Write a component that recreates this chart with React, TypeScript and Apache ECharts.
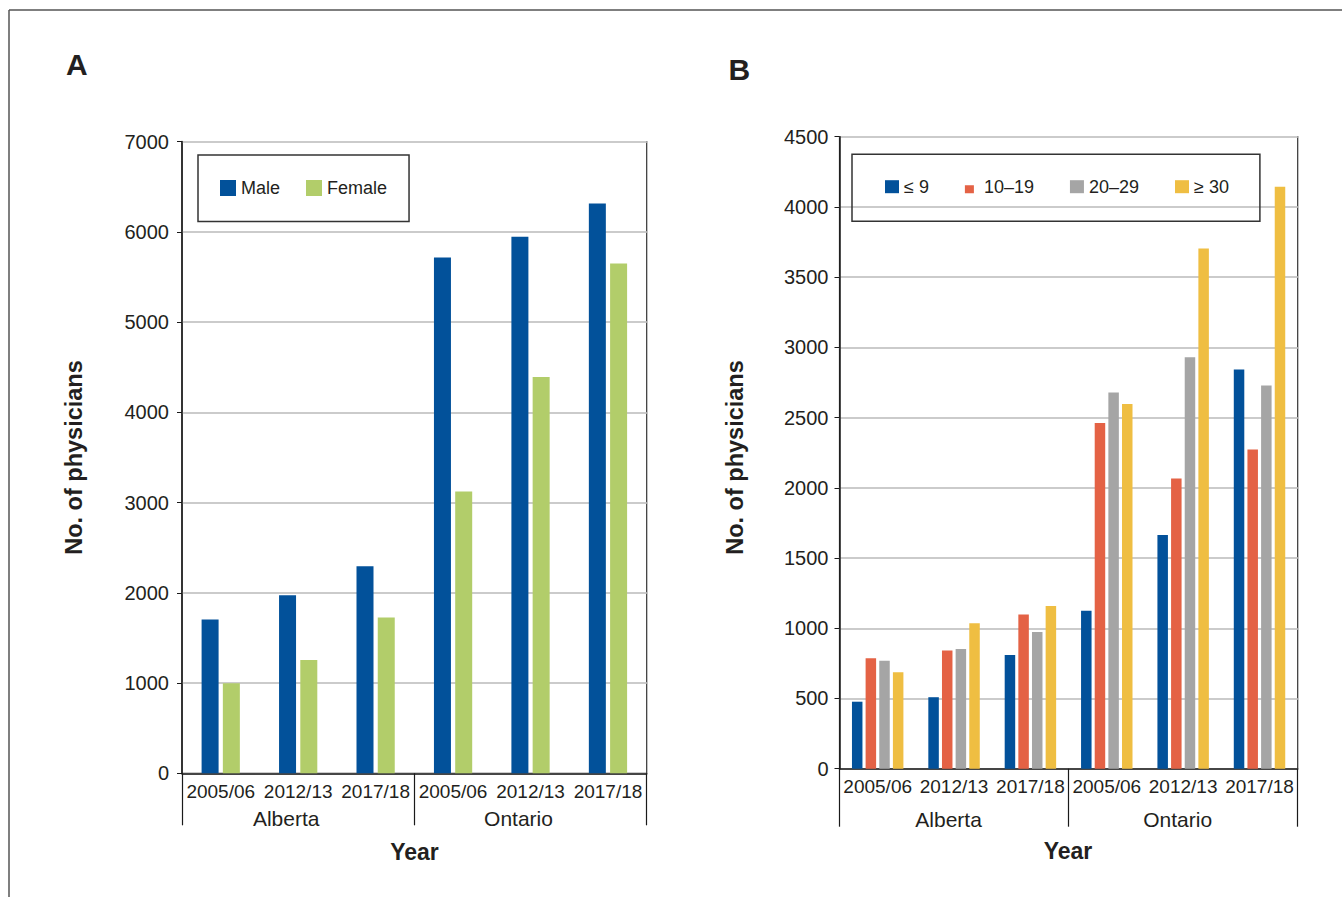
import React, { useEffect, useRef } from "react";
import * as echarts from "echarts";

// ---- Data ----
const periods = ["2005/06", "2012/13", "2017/18", "2005/06", "2012/13", "2017/18"];
const provinces = ["Alberta", "Ontario"];

// Panel A: number of physicians by sex
const sexNames = ["Male", "Female"];
const maleValues = [1705, 1972, 2295, 5715, 5945, 6312];
const femaleValues = [998, 1255, 1727, 3123, 4392, 5647];

// Panel B: number of physicians by years in practice
const ageNames = ["≤ 9", "10–19", "20–29", "≥ 30"];
const le9Values = [477, 509, 810, 1124, 1664, 2842];
const y10to19Values = [787, 841, 1098, 2462, 2067, 2272];
const y20to29Values = [768, 853, 974, 2678, 2930, 2729];
const ge30Values = [687, 1036, 1158, 2597, 3704, 4144];

const colorsA = ["#02519a", "#b2cd6a"];
const colorsB = ["#02519a", "#e46245", "#a5a5a5", "#efbe42"];

const FONT = "'Liberation Sans', Arial, Helvetica, sans-serif";
const TXT = "#231f20";

function yAxisCfg(max: number, interval: number, margin: number) {
  return {
    type: "value",
    min: 0,
    max,
    interval,
    axisLine: { show: true, lineStyle: { color: "#1a1a1a", width: 1.5 } },
    axisTick: { show: true, length: 5, lineStyle: { color: "#1a1a1a", width: 1 } },
    axisLabel: {
      fontSize: 20,
      color: TXT,
      fontFamily: FONT,
      margin,
      formatter: (v: number) => String(v),
    },
    splitLine: { show: true, lineStyle: { color: "#cbcbcb", width: 2 } },
  };
}

function periodAxis(gridIndex: number, margin: number) {
  return {
    type: "category",
    gridIndex,
    data: periods,
    position: "bottom",
    axisLine: { show: true, onZero: false, lineStyle: { color: "#1a1a1a", width: 1.5 } },
    axisTick: { show: false },
    axisLabel: { interval: 0, fontSize: 19, color: TXT, fontFamily: FONT, margin },
    splitLine: { show: false },
  };
}

function provinceAxis(gridIndex: number, tickLen: number, margin: number, shiftLeft: number) {
  return {
    type: "category",
    gridIndex,
    data: provinces,
    position: "bottom",
    axisLine: { show: false },
    axisTick: { show: true, interval: 0, length: tickLen, lineStyle: { color: "#1a1a1a", width: 1.2 } },
    axisLabel: {
      interval: 0,
      fontSize: 21,
      color: TXT,
      fontFamily: FONT,
      margin,
      padding: [0, shiftLeft * 2, 0, 0],
    },
    splitLine: { show: false },
  };
}

const smallRedIcon =
  "path://M0,0L0.01,0L0.01,0.01ZM0,5L9,5L9,13L0,13ZM14,13L13.99,13L13.99,12.99Z";

export default function App() {
  const ref = useRef<HTMLDivElement>(null);

  useEffect(() => {
    if (!ref.current) return;
    const chart = echarts.init(ref.current, null, { renderer: "svg" });

    const option: any = {
      animation: false,
      backgroundColor: "#ffffff",
      textStyle: { fontFamily: FONT },
      grid: [
        {
          left: 182,
          top: 141.5,
          width: 464.7,
          height: 631.8,
          show: true,
          borderColor: "#333",
          borderWidth: 1.2,
          backgroundColor: "transparent",
        },
        {
          left: 839.5,
          top: 136.7,
          width: 458.2,
          height: 632,
          show: true,
          borderColor: "#333",
          borderWidth: 1.2,
          backgroundColor: "transparent",
        },
      ],
      xAxis: [
        periodAxis(0, 9),
        provinceAxis(0, 52, 35, 12),
        periodAxis(1, 8.5),
        provinceAxis(1, 58, 40.5, 5.5),
      ],
      yAxis: [
        { ...yAxisCfg(7000, 1000, 13), gridIndex: 0 },
        { ...yAxisCfg(4500, 500, 11), gridIndex: 1 },
      ],
      legend: [
        {
          data: sexNames,
          left: 198,
          top: 155,
          orient: "horizontal",
          padding: [24, 22, 24.5, 22],
          itemWidth: 16,
          itemHeight: 16,
          itemGap: 26,
          icon: "rect",
          borderColor: "#333",
          borderWidth: 1.5,
          selectedMode: false,
          textStyle: { fontSize: 18, color: TXT, fontFamily: FONT },
        },
        {
          data: [
            { name: ageNames[0] },
            { name: ageNames[1], icon: smallRedIcon },
            { name: ageNames[2] },
            { name: ageNames[3] },
          ],
          left: 852,
          top: 154.3,
          orient: "horizontal",
          padding: [23.4, 31, 25.6, 33],
          itemWidth: 14,
          itemHeight: 13,
          itemGap: 36,
          icon: "rect",
          borderColor: "#333",
          borderWidth: 1.5,
          selectedMode: false,
          textStyle: { fontSize: 18, color: TXT, fontFamily: FONT },
        },
      ],
      series: [
        {
          name: sexNames[0],
          type: "bar",
          xAxisIndex: 0,
          yAxisIndex: 0,
          data: maleValues,
          barWidth: 17,
          barGap: "25%",
          itemStyle: { color: colorsA[0] },
        },
        {
          name: sexNames[1],
          type: "bar",
          xAxisIndex: 0,
          yAxisIndex: 0,
          data: femaleValues,
          barWidth: 17,
          barGap: "25%",
          itemStyle: { color: colorsA[1] },
        },
        ...[le9Values, y10to19Values, y20to29Values, ge30Values].map((vals, i) => ({
          name: ageNames[i],
          type: "bar",
          xAxisIndex: 2,
          yAxisIndex: 1,
          data: vals,
          barWidth: 10.5,
          barGap: "30%",
          itemStyle: { color: colorsB[i] },
        })),
      ],
      graphic: [
        {
          type: "line",
          shape: { x1: 9, y1: 10, x2: 1342, y2: 10 },
          style: { stroke: "#555", lineWidth: 1.5 },
        },
        {
          type: "line",
          shape: { x1: 9, y1: 10, x2: 9, y2: 897 },
          style: { stroke: "#555", lineWidth: 1.5 },
        },
        {
          type: "text",
          x: 66,
          y: 64.5,
          style: { text: "A", font: `bold 30px ${FONT}`, fill: TXT, align: "left", verticalAlign: "middle" },
        },
        {
          type: "text",
          x: 728.5,
          y: 69.5,
          style: { text: "B", font: `bold 30px ${FONT}`, fill: TXT, align: "left", verticalAlign: "middle" },
        },
        {
          type: "text",
          x: 74,
          y: 457.5,
          rotation: Math.PI / 2,
          style: {
            text: "No. of physicians",
            font: `bold 23.5px ${FONT}`,
            fill: TXT,
            align: "center",
            verticalAlign: "middle",
          },
        },
        {
          type: "text",
          x: 735,
          y: 457.5,
          rotation: Math.PI / 2,
          style: {
            text: "No. of physicians",
            font: `bold 23.5px ${FONT}`,
            fill: TXT,
            align: "center",
            verticalAlign: "middle",
          },
        },
        {
          type: "text",
          x: 414.5,
          y: 851.5,
          style: { text: "Year", font: `bold 23px ${FONT}`, fill: TXT, align: "center", verticalAlign: "middle" },
        },
        {
          type: "text",
          x: 1068,
          y: 851.3,
          style: { text: "Year", font: `bold 23px ${FONT}`, fill: TXT, align: "center", verticalAlign: "middle" },
        },
      ],
    };

    chart.setOption(option);
    return () => chart.dispose();
  }, []);

  return (
    <div
      ref={ref}
      style={{ position: "fixed", left: 0, top: 0, width: 1342, height: 897, background: "#fff" }}
    />
  );
}
